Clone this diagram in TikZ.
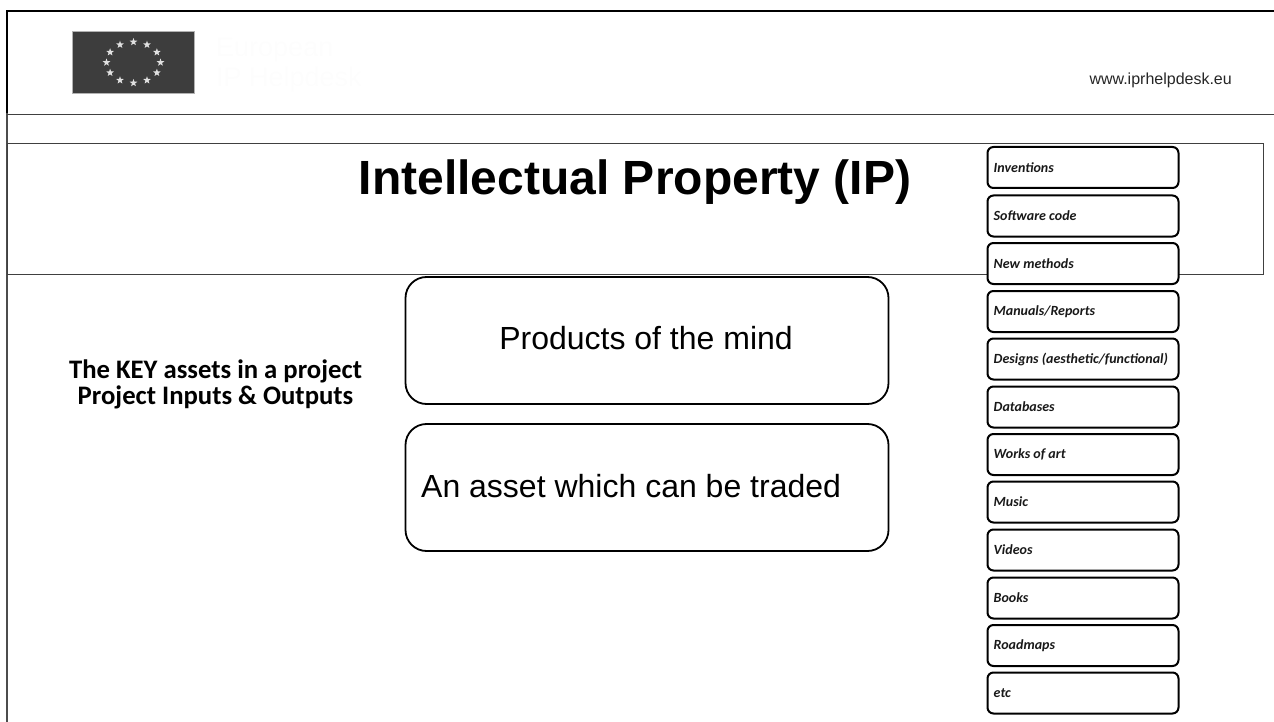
\documentclass[tikz,border=0pt]{standalone}
\usepackage{fontspec}
\setmainfont{Liberation Sans}
\newfontfamily\carl{Carlito}
\usetikzlibrary{shapes.geometric,calc}
\tikzset{
 x=1pt,y=-1pt,
 item/.style={draw=black,line width=2pt,fill=white,rounded corners=6pt,minimum width=191pt,minimum height=41pt,inner sep=0pt,outer sep=0pt},
 itemtext/.style={anchor=west,inner sep=0pt,font=\carl\bfseries\itshape\fontsize{14}{16}\selectfont,text=black!90},
 bigbox/.style={draw=black,line width=1.8pt,fill=white,rounded corners=21pt,minimum width=483pt,minimum height=127pt,inner sep=0pt,outer sep=0pt},
 bigtext/.style={inner sep=0pt,font=\fontsize{32}{36}\selectfont},
 rule/.style={draw=black!75,line width=0.9pt},
 eustar/.style={star,star points=5,star point ratio=2.4,fill=black!12,draw=none,minimum size=8pt,inner sep=0pt}
}
\begin{document}
\begin{tikzpicture}
\useasboundingbox (0,0) rectangle (1274,722);
% frame
\coordinate (tl) at (7,11); \coordinate (tr) at (1274,11); \coordinate (bl) at (7,722);
\draw[line width=2.8pt,black] (tr) -- (tl) -- (7,113);
\draw[line width=2pt,black!70] (7,113) -- (bl);
\coordinate (r1a) at (7,114); \coordinate (r1b) at (1274,114);
\draw[rule] (r1a) -- (r1b);
\node[rule,draw,minimum width=1256pt,minimum height=130pt,inner sep=0pt,anchor=north west] (titlebox) at (7,143.5) {};
% flag
\node[fill=black!76,draw=black!30,line width=0.5pt,minimum width=122pt,minimum height=62pt,inner sep=0pt,anchor=north west] (flag) at (72,31.5) {};
\foreach \a in {0,30,...,330}{\node[eustar] (s\a) at ($(133.5,62.5)+(\a:27 and 20.5)$) {};}
% faint text
\node[anchor=west,inner sep=0pt,text=black!0.8,font=\fontsize{27}{30}\selectfont,align=left] (faint) at (216,65) {European\\IP Helpdesk};
\node[anchor=east,inner sep=0pt,font=\fontsize{16}{18}\selectfont,text=black!85] (web) at (1232,80) {www.iprhelpdesk.eu};
\node[inner sep=0pt,font=\bfseries\fontsize{48}{54}\selectfont] (title) at (635,182.5) {Intellectual Property (IP)};
% left text
\node[inner sep=0pt,align=center,font=\carl\bfseries\fontsize{26.7}{26}\selectfont] (key) at (215.5,384.5) {The KEY assets in a project\\Project Inputs \& Outputs};
% big boxes
\node[bigbox] (b1) at (647,340.5) {};
\node[bigtext] (t1) at (646,338.5) {Products of the mind};
\node[bigbox] (b2) at (647,487.5) {};
\node[bigtext,anchor=west] (t2) at (421,486) {An asset which can be traded};
% items
\foreach \n/\y/\t in {a/167.5/Inventions,b/216/Software code,c/263.5/New methods,d/311.5/Manuals\slash Reports,e/359/Designs (aesthetic\slash functional),f/407/Databases,g/454.5/Works of art,h/502/Music,i/550/Videos,j/598/Books,k/645.5/Roadmaps,l/693/etc}{
 \node[item] (\n) at (1083,\y) {};
 \node[itemtext] (\n t) at (993.5,\y) {\t};
}
\end{tikzpicture}
\end{document}
